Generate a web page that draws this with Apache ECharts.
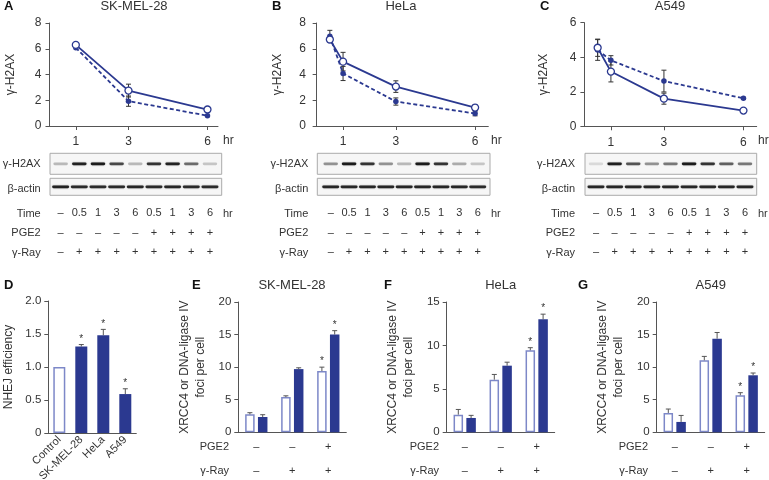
<!DOCTYPE html>
<html><head><meta charset="utf-8">
<script src="https://cdn.jsdelivr.net/npm/echarts@6/dist/echarts.min.js"></script>
<style>html,body{margin:0;padding:0;background:#fff}#c{width:769px;height:480px}</style>
</head><body><div id="c"></div>
<script>
// ---------- DATA ----------
// Panels A-C: gamma-H2AX time course
const xTicks = [1, 3, 6];
const hoursA = [1, 3, 6];
const openA = [6.3, 2.75, 1.28];
const openAErr = [0, 0.5, 0];
const filledA = [6.08, 1.93, 0.8];
const filledAErr = [0, 0.4, 0];

const hoursBC = [0.5, 1, 3, 6];
const openB = [6.72, 5.0, 3.06, 1.43];
const openBErr = [0.2, 0.72, 0.45, 0.22];
const filledB = [6.98, 4.08, 1.9, 0.97];
const filledBErr = [0.45, 0.55, 0.28, 0.18];

const openC = [4.55, 3.17, 1.6, 0.91];
const openCErr = [0.5, 0.6, 0.32, 0.08];
const filledC = [4.42, 3.82, 2.62, 1.62];
const filledCErr = [0.6, 0.27, 0.63, 0.06];

// Western blot lanes
const laneTime = ['–', '0.5', '1', '3', '6', '0.5', '1', '3', '6'];
const lanePGE2 = ['–', '–', '–', '–', '–', '+', '+', '+', '+'];
const laneRay = ['–', '+', '+', '+', '+', '+', '+', '+', '+'];
const h2axA = [0.25, 0.9, 0.95, 0.7, 0.25, 0.8, 0.9, 0.55, 0.2];
const actinA = [0.9, 0.85, 0.85, 0.85, 0.88, 0.85, 0.88, 0.85, 0.85];
const h2axB = [0.4, 0.95, 0.8, 0.4, 0.25, 0.95, 0.8, 0.3, 0.2];
const actinB = [0.88, 0.88, 0.88, 0.88, 0.88, 0.88, 0.88, 0.88, 0.85];
const h2axC = [0.12, 0.92, 0.65, 0.4, 0.5, 0.95, 0.8, 0.6, 0.5];
const actinC = [0.88, 0.88, 0.88, 0.88, 0.88, 0.88, 0.88, 0.88, 0.88];

// Panel D: NHEJ efficiency
const dCats = ['Control', 'SK-MEL-28', 'HeLa', 'A549'];
const dVals = [1.0, 1.31, 1.48, 0.59];
const dErr = [0, 0.03, 0.09, 0.08];
const dSig = [0, 1, 1, 1];
const dOpen = [true, false, false, false];

// Panels E-G: foci per cell
const groupPGE2 = ['–', '–', '+'];
const groupRay = ['–', '+', '+'];
const eOpen = [2.76, 5.4, 9.4], eOpenErr = [0.25, 0.2, 0.6], eOpenSig = [0, 0, 1];
const eFilled = [2.35, 9.7, 15.0], eFilledErr = [0.35, 0.2, 0.6], eFilledSig = [0, 0, 1];
const fOpen = [2.03, 6.06, 9.44], fOpenErr = [0.6, 0.6, 0.3], fOpenSig = [0, 0, 1];
const fFilled = [1.65, 7.67, 13.0], fFilledErr = [0.3, 0.4, 0.6], fFilledSig = [0, 0, 1];
const gOpen = [2.97, 11.05, 5.68], gOpenErr = [0.6, 0.6, 0.4], gOpenSig = [0, 0, 1];
const gFilled = [1.59, 14.37, 8.75], gFilledErr = [1.0, 0.95, 0.35], gFilledSig = [0, 0, 1];

// ---------- STYLE ----------
const FONT = "'Liberation Sans', Arial, Helvetica, sans-serif";
const NAVY = '#2b3990';
const OPEN_EDGE = '#7d88c8';
const TXT = '#333';
const AX = '#555';
const BARW = 9.5, BARGAP = 3.3;

const chart = echarts.init(document.getElementById('c'), null, {renderer: 'canvas'});

const grids = [], xAxes = [], yAxes = [], series = [];
function addGrid(g) { grids.push(Object.assign({outerBoundsMode: 'none', containLabel: false}, g)); return grids.length - 1; }

const axLine = {show: true, lineStyle: {color: AX, width: 1}};
const noSplit = {show: false};

// ---- line panels ----
function lineGrid(box, xmin, xmax, ymax, yname, nameGap, hours, open, openErr, filled, filledErr) {
  const gi = addGrid(box);
  xAxes.push({gridIndex: gi, type: 'value', min: xmin, max: xmax, axisLine: axLine, splitLine: noSplit,
    axisTick: {show: true, customValues: xTicks, length: 4, lineStyle: {color: AX}},
    axisLabel: {customValues: xTicks, fontFamily: FONT, fontSize: 12, color: TXT, margin: 10}});
  yAxes.push({gridIndex: gi, type: 'value', min: 0, max: ymax, interval: 2, axisLine: axLine, splitLine: noSplit,
    axisTick: {show: true, length: 4, lineStyle: {color: AX}},
    axisLabel: {fontFamily: FONT, fontSize: 12, color: TXT, margin: 8},
    name: yname, nameLocation: 'middle', nameGap: nameGap, nameRotate: 90,
    nameTextStyle: {fontFamily: FONT, fontSize: 12, color: TXT}});
  const ai = xAxes.length - 1;
  const errRender = function (params, api) {
    const x = api.value(0), y = api.value(1), e = api.value(2);
    if (!e) return {type: 'group', children: []};
    const t = api.coord([x, y + e]), b = api.coord([x, y - e]);
    const w = 2.5, st = {stroke: '#333', lineWidth: 1};
    return {type: 'group', children: [
      {type: 'line', shape: {x1: t[0], y1: t[1], x2: b[0], y2: b[1]}, style: st},
      {type: 'line', shape: {x1: t[0] - w, y1: t[1], x2: t[0] + w, y2: t[1]}, style: st},
      {type: 'line', shape: {x1: b[0] - w, y1: b[1], x2: b[0] + w, y2: b[1]}, style: st}
    ]};
  };
  series.push({type: 'custom', xAxisIndex: ai, yAxisIndex: ai, renderItem: errRender, z: 1, silent: true,
    encode: {x: 0, y: 1}, data: hours.map((h, i) => [h, filled[i], filledErr[i]])});
  series.push({type: 'custom', xAxisIndex: ai, yAxisIndex: ai, renderItem: errRender, z: 1, silent: true,
    encode: {x: 0, y: 1}, data: hours.map((h, i) => [h, open[i], openErr[i]])});
  series.push({type: 'line', xAxisIndex: ai, yAxisIndex: ai, z: 3, symbol: 'circle', symbolSize: 5.5,
    lineStyle: {color: NAVY, width: 1.8, type: [4, 2.5]}, itemStyle: {color: NAVY},
    data: hours.map((h, i) => [h, filled[i]])});
  series.push({type: 'line', xAxisIndex: ai, yAxisIndex: ai, z: 4, symbol: 'circle', symbolSize: 7,
    lineStyle: {color: NAVY, width: 1.8}, itemStyle: {color: '#fff', borderColor: NAVY, borderWidth: 1.3},
    data: hours.map((h, i) => [h, open[i]])});
}
lineGrid({left: 49.5, top: 23, width: 168.5, height: 103}, 0, 6.4, 8, 'γ-H2AX', 33, hoursA, openA, openAErr, filledA, filledAErr);
lineGrid({left: 314, top: 23, width: 174.3, height: 103}, -0.1, 6.5, 8, 'γ-H2AX', 30, hoursBC, openB, openBErr, filledB, filledBErr);
lineGrid({left: 584.4, top: 22.7, width: 172.3, height: 103.6}, 0, 6.5, 6, 'γ-H2AX', 35, hoursBC, openC, openCErr, filledC, filledCErr);

// ---- blots ----
function bandRender(w, h) {
  return function (params, api) {
    const c = api.coord([api.value(0), 0]);
    const v = api.value(1);
    return {type: 'rect', shape: {x: c[0] - w / 2, y: c[1] - h / 2, width: w, height: h, r: h / 2},
      style: {fill: 'rgba(20,20,20,' + v + ')', shadowBlur: 1.5, shadowColor: 'rgba(0,0,0,' + (v * 0.5) + ')'}};
  };
}
function blot(left, width, xmin, xmax, h2ax, actin) {
  const boxStyle = {show: true, backgroundColor: '#f6f6f6', borderColor: '#aaa', borderWidth: 1};
  const g1 = addGrid(Object.assign({left: left, top: 153.3, width: width, height: 21}, boxStyle));
  xAxes.push({gridIndex: g1, type: 'value', min: xmin, max: xmax, show: false});
  yAxes.push({gridIndex: g1, type: 'value', min: -1, max: 1, show: false});
  let ai = xAxes.length - 1;
  series.push({type: 'custom', xAxisIndex: ai, yAxisIndex: ai, silent: true, renderItem: bandRender(14.5, 2.8),
    encode: {x: 0}, data: h2ax.map((v, i) => [i, v])});
  const g2 = addGrid(Object.assign({left: left, top: 178.3, width: width, height: 17}, boxStyle));
  const idx = laneTime.map((_, i) => i);
  xAxes.push({gridIndex: g2, type: 'value', min: xmin, max: xmax, splitLine: noSplit,
    axisLine: {show: false}, axisTick: {show: false},
    axisLabel: {customValues: idx, fontFamily: FONT, fontSize: 11, color: TXT, margin: 8, lineHeight: 19.5,
      formatter: v => laneTime[v] + '\n' + lanePGE2[v] + '\n' + laneRay[v]}});
  yAxes.push({gridIndex: g2, type: 'value', min: -1, max: 1, show: false});
  ai = xAxes.length - 1;
  series.push({type: 'custom', xAxisIndex: ai, yAxisIndex: ai, silent: true, renderItem: bandRender(17, 2.8),
    encode: {x: 0}, data: actin.map((v, i) => [i, v])});
}
blot(50, 171.7, -0.57, 8.63, h2axA, actinA);
blot(317.3, 172.7, -0.73, 8.67, h2axB, actinB);
blot(585, 171.7, -0.59, 8.63, h2axC, actinC);

// ---- bar error renderer ----
function barErr(offset) {
  return function (params, api) {
    const x = api.value(0), y = api.value(1), e = api.value(2), s = api.value(3);
    const base = api.coord([x, y]), top = api.coord([x, y + e]);
    const cx = base[0] + offset, st = {stroke: '#555', lineWidth: 1};
    const ch = [];
    if (e > 0) {
      ch.push({type: 'line', shape: {x1: cx, y1: base[1], x2: cx, y2: top[1]}, style: st});
      ch.push({type: 'line', shape: {x1: cx - 2.5, y1: top[1], x2: cx + 2.5, y2: top[1]}, style: st});
    }
    if (s) ch.push({type: 'text', x: cx, y: top[1] - 0.5,
      style: {text: '*', align: 'center', verticalAlign: 'bottom', font: '10px ' + FONT, fill: '#333'}});
    return {type: 'group', children: ch};
  };
}

// ---- panel D ----
(function () {
  const gi = addGrid({left: 48.3, top: 301, width: 88, height: 132});
  xAxes.push({gridIndex: gi, type: 'category', data: dCats, axisLine: axLine, axisTick: {show: false},
    axisLabel: {rotate: 45, fontFamily: FONT, fontSize: 11, color: TXT, margin: 5, interval: 0}});
  yAxes.push({gridIndex: gi, type: 'value', min: 0, max: 2, interval: 0.5, axisLine: axLine, splitLine: noSplit,
    axisTick: {show: true, length: 4, lineStyle: {color: AX}},
    axisLabel: {fontFamily: FONT, fontSize: 11.5, color: TXT, margin: 7, formatter: v => v === 0 ? '0' : v.toFixed(1)},
    name: 'NHEJ efficiency', nameLocation: 'middle', nameGap: 34, nameRotate: 90,
    nameTextStyle: {fontFamily: FONT, fontSize: 12, color: TXT}});
  const ai = xAxes.length - 1;
  series.push({type: 'bar', xAxisIndex: ai, yAxisIndex: ai, barWidth: 12,
    data: dVals.map((v, i) => ({value: v, itemStyle: dOpen[i] ? {color: '#fff', borderColor: OPEN_EDGE, borderWidth: 1.5} : {color: NAVY}}))});
  series.push({type: 'custom', xAxisIndex: ai, yAxisIndex: ai, silent: true, z: 5, renderItem: barErr(0),
    encode: {x: 0, y: 1}, data: dVals.map((v, i) => [i, v, dErr[i], dSig[i]])});
})();

// ---- panels E-G ----
function fociPanel(left, ymax, open, openErr, openSig, filled, filledErr, filledSig) {
  const gi = addGrid({left: left, top: 302, width: 108, height: 130.3});
  xAxes.push({gridIndex: gi, type: 'category', data: groupPGE2.map((_, i) => i), axisLine: axLine, axisTick: {show: false},
    axisLabel: {fontFamily: FONT, fontSize: 11, color: TXT, margin: 3, lineHeight: 24,
      formatter: (v, i) => groupPGE2[i] + '\n' + groupRay[i]}});
  yAxes.push({gridIndex: gi, type: 'value', min: 0, max: ymax, interval: 5, axisLine: axLine, splitLine: noSplit,
    axisTick: {show: true, length: 4, lineStyle: {color: AX}},
    axisLabel: {fontFamily: FONT, fontSize: 11.5, color: TXT, margin: 7},
    name: 'XRCC4 or DNA-ligase IV\nfoci per cell', nameLocation: 'middle', nameGap: 30, nameRotate: 90,
    nameTextStyle: {fontFamily: FONT, fontSize: 12, color: TXT, lineHeight: 16}});
  const ai = xAxes.length - 1;
  const off = (BARW + BARGAP) / 2;
  series.push({type: 'bar', xAxisIndex: ai, yAxisIndex: ai, barWidth: BARW, barGap: (BARGAP / BARW * 100) + '%',
    itemStyle: {color: '#fff', borderColor: OPEN_EDGE, borderWidth: 1.5}, data: open});
  series.push({type: 'bar', xAxisIndex: ai, yAxisIndex: ai, barWidth: BARW, barGap: (BARGAP / BARW * 100) + '%',
    itemStyle: {color: NAVY}, data: filled});
  series.push({type: 'custom', xAxisIndex: ai, yAxisIndex: ai, silent: true, z: 5, renderItem: barErr(-off),
    encode: {x: 0, y: 1}, data: open.map((v, i) => [i, v, openErr[i], openSig[i]])});
  series.push({type: 'custom', xAxisIndex: ai, yAxisIndex: ai, silent: true, z: 5, renderItem: barErr(off),
    encode: {x: 0, y: 1}, data: filled.map((v, i) => [i, v, filledErr[i], filledSig[i]])});
}
fociPanel(238.3, 20, eOpen, eOpenErr, eOpenSig, eFilled, eFilledErr, eFilledSig);
fociPanel(446.7, 15, fOpen, fOpenErr, fOpenSig, fFilled, fFilledErr, fFilledSig);
fociPanel(656.7, 20, gOpen, gOpenErr, gOpenSig, gFilled, gFilledErr, gFilledSig);

// ---- texts ----
function txt(text, x, y, align, font, color) {
  return {type: 'text', x: x, y: y, silent: true,
    style: {text: text, align: align, verticalAlign: 'middle', textAlign: align, textVerticalAlign: 'middle',
      font: font, fill: color || TXT}};
}
const F12 = '12px ' + FONT, F11 = '11px ' + FONT, FB = 'bold 13px ' + FONT, F13 = '13px ' + FONT;
const graphics = [
  txt('A', 4, 6.5, 'left', FB, '#111'), txt('B', 272, 6.5, 'left', FB, '#111'), txt('C', 540, 6.5, 'left', FB, '#111'),
  txt('D', 4, 285.5, 'left', FB, '#111'), txt('E', 192, 285.5, 'left', FB, '#111'),
  txt('F', 384, 285.5, 'left', FB, '#111'), txt('G', 578, 285.5, 'left', FB, '#111'),
  txt('SK-MEL-28', 134, 6.5, 'center', F13), txt('HeLa', 401, 6.5, 'center', F13), txt('A549', 670, 6.5, 'center', F13),
  txt('SK-MEL-28', 292, 285.5, 'center', F13), txt('HeLa', 500.7, 285.5, 'center', F13), txt('A549', 710.7, 285.5, 'center', F13),
  txt('hr', 223, 140.7, 'left', F12), txt('hr', 491, 140.7, 'left', F12), txt('hr', 758, 140.7, 'left', F12)
];
[[40.7, 223], [308.3, 491], [575, 758]].forEach(([r, h]) => {
  graphics.push(txt('γ-H2AX', r, 164, 'right', F11), txt('β-actin', r, 189, 'right', F11),
    txt('Time', r, 213.5, 'right', F11), txt('PGE2', r, 233, 'right', F11), txt('γ-Ray', r, 252.5, 'right', F11),
    txt('hr', h, 213.5, 'left', F11));
});
[229, 439, 648].forEach(r => {
  graphics.push(txt('PGE2', r, 446.7, 'right', F11), txt('γ-Ray', r, 470.7, 'right', F11));
});

chart.setOption({
  animation: false,
  backgroundColor: '#fff',
  textStyle: {fontFamily: FONT},
  grid: grids, xAxis: xAxes, yAxis: yAxes, series: series,
  graphic: graphics
});
</script></body></html>
